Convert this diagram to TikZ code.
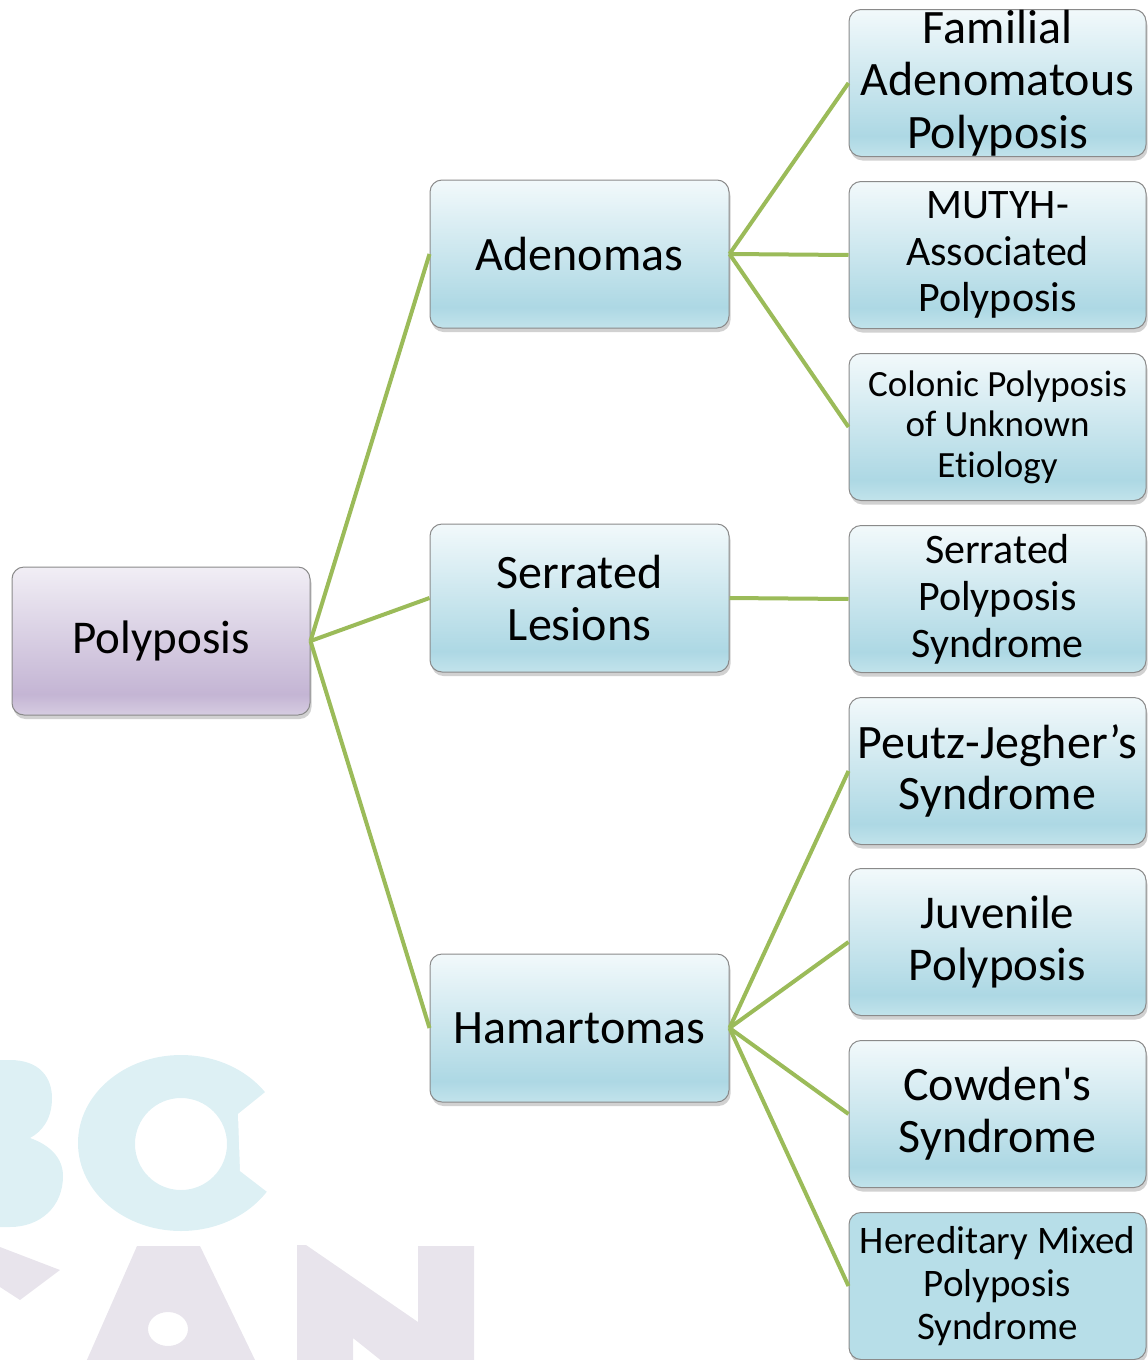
\documentclass[tikz,border=0pt]{standalone}
\usepackage{fontspec}
\setmainfont[Ligatures={NoCommon}]{Carlito}
\usetikzlibrary{shadows}

\definecolor{blTop}{HTML}{F2F9FB}
\definecolor{blDark}{HTML}{ADD8E4}
\definecolor{blBot}{HTML}{C2E3EB}
\definecolor{blFlat}{HTML}{B7DEE8}
\definecolor{puTop}{HTML}{F1EEF5}
\definecolor{puDark}{HTML}{C4B5D4}
\definecolor{puBot}{HTML}{D6CCE1}
\definecolor{linkGreen}{HTML}{9BBB59}
\definecolor{wmBlue}{HTML}{DDF0F4}
\definecolor{wmPurple}{HTML}{E8E4EC}
\definecolor{boxEdge}{HTML}{8A8A8A}

\pgfdeclareverticalshading{bluegrad}{100bp}{color(0bp)=(blBot); color(25bp)=(blBot); color(32bp)=(blDark); color(75bp)=(blTop); color(100bp)=(blTop)}
\pgfdeclareverticalshading{purplegrad}{100bp}{color(0bp)=(puBot); color(25bp)=(puBot); color(32bp)=(puDark); color(75bp)=(puTop); color(100bp)=(puTop)}

\newcommand{\fs}[2]{\fontsize{#1}{#2}\selectfont}

\tikzset{
  boxbase/.style={draw=boxEdge, line width=1pt, rounded corners=12pt,
    align=center, inner sep=0pt, text=black,
    drop shadow={shadow xshift=1.5pt, shadow yshift=-4pt, opacity=0.3, fill=black!60}},
  rootbox/.style={boxbase, shading=purplegrad, minimum width=298pt, minimum height=148pt},
  midbox/.style={boxbase, shading=bluegrad, minimum width=299pt, minimum height=148pt},
  leafsize/.style={minimum width=297pt, minimum height=147pt},
  leafbox/.style={boxbase, shading=bluegrad, leafsize},
  flatleafbox/.style={boxbase, fill=blFlat, leafsize},
  link/.style={draw=linkGreen, line width=4pt}
}

\begin{document}
\begin{tikzpicture}[x=1pt, y=-1pt]
\useasboundingbox (0,0) rectangle (1148,1360);
\begin{scope}
\clip (0,0) rectangle (1148,1360);

% background lettering
\fill[wmBlue] (0,1060) -- (10,1060) .. controls (40,1060) and (52,1078) .. (52,1098)
  .. controls (52,1118) and (43,1131) .. (30,1138)
  .. controls (50,1145) and (63,1158) .. (63,1176)
  .. controls (63,1207) and (40,1227) .. (10,1227) -- (0,1227) -- cycle;
\fill[wmBlue, even odd rule] (181,1143) ellipse [x radius=103, y radius=88]
  (181,1144) ellipse [x radius=46, y radius=46];
\fill[white] (238,1114) -- (279,1081) -- (300,1081) -- (300,1205) -- (279,1201) -- (240,1171) -- cycle;
\fill[wmPurple] (0,1247) -- (60,1270) -- (20,1300) -- (0,1287) -- cycle;
\fill[wmPurple, even odd rule] (137,1246) -- (200,1246) -- (256,1362) -- (86,1362) -- cycle
  (168,1329) ellipse [x radius=20, y radius=17];
\fill[wmPurple] (297,1245) -- (306,1245) -- (418,1322) -- (418,1246) -- (474,1246)
  -- (474,1362) -- (383,1362) -- (353,1338) -- (353,1362) -- (297,1362) -- cycle;

% boxes
\node[rootbox, font=\fs{47}{52}] (poly) at (161,641) {Polyposis};

\node[midbox, font=\fs{48}{52}] (aden) at (579.5,254) {Adenomas};
\node[midbox, font=\fs{48}{52}] (serr) at (579.5,598) {Serrated\\Lesions};
\node[midbox, font=\fs{48}{52}] (hama) at (579.5,1028) {Hamartomas};

\node[leafbox, font=\fs{48}{52.5}] (fap) at (997.5,83) {Familial\\Adenomatous\\Polyposis};
\node[leafbox, font=\fs{42}{46.5}] (mutyh) at (997.5,255) {MUTYH-\\Associated\\Polyposis};
\node[leafbox, font=\fs{37}{40.5}] (cpue) at (997.5,427) {Colonic Polyposis\\of Unknown\\Etiology};
\node[leafbox, font=\fs{42}{47}] (sps) at (997.5,599) {Serrated\\Polyposis\\Syndrome};
\node[leafbox, font=\fs{48}{51}] (pjs) at (997.5,771) {Peutz-Jegher’s\\Syndrome};
\node[leafbox, font=\fs{47}{52}] (juv) at (997.5,942) {Juvenile\\Polyposis};
\node[leafbox, font=\fs{48}{52}] (cow) at (997.5,1114) {Cowden\textquotesingle s\\Syndrome};
\node[flatleafbox, font=\fs{39}{43}] (hmps) at (997.5,1286) {Hereditary Mixed\\Polyposis\\Syndrome};

% connectors
\draw[link] (poly.east) -- (aden.west);
\draw[link] (poly.east) -- (serr.west);
\draw[link] (poly.east) -- (hama.west);
\draw[link] (aden.east) -- (fap.west);
\draw[link] (aden.east) -- (mutyh.west);
\draw[link] (aden.east) -- (cpue.west);
\draw[link] (serr.east) -- (sps.west);
\draw[link] (hama.east) -- (pjs.west);
\draw[link] (hama.east) -- (juv.west);
\draw[link] (hama.east) -- (cow.west);
\draw[link] (hama.east) -- (hmps.west);
\end{scope}
\end{tikzpicture}
\end{document}
